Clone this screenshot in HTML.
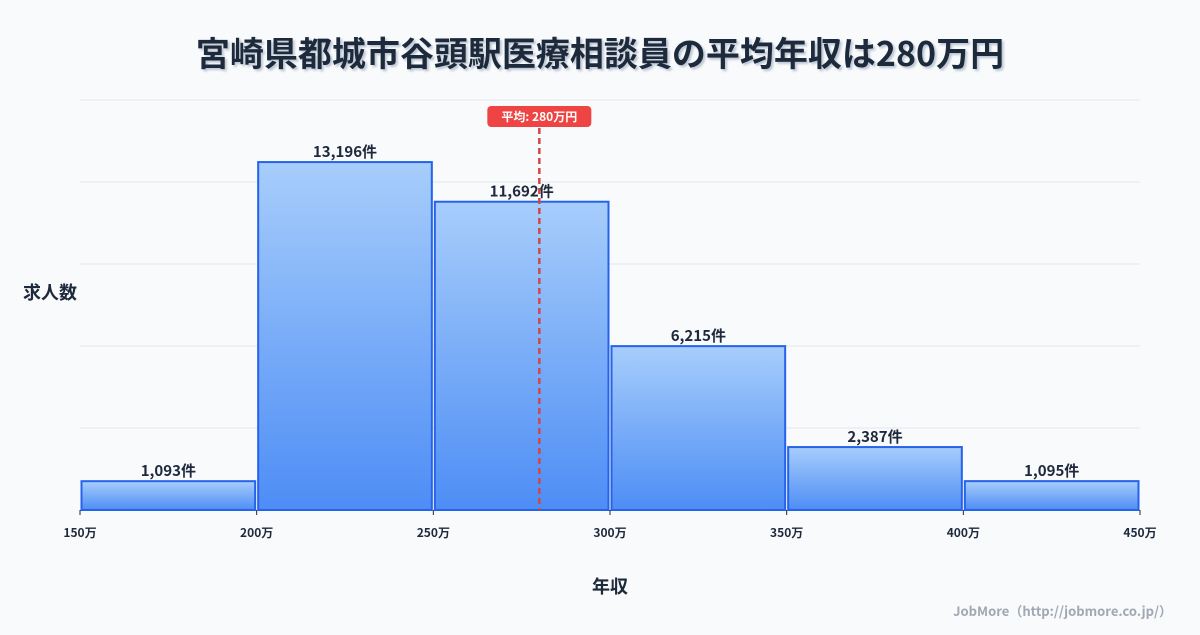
<!DOCTYPE html>
<html><head><meta charset="utf-8"><style>
body{margin:0;width:1200px;height:630px;background:#f8fafc;font-family:"Noto Sans CJK JP","Liberation Sans",sans-serif;overflow:hidden}
svg text{font-family:"Noto Sans CJK JP","Liberation Sans",sans-serif}
</style></head><body>
<svg id="chart" width="1200" height="630" xmlns="http://www.w3.org/2000/svg">
<defs>
<linearGradient id="g" x1="0" y1="0" x2="0" y2="1"><stop offset="0" stop-color="#a7cdfb"/><stop offset="1" stop-color="#4d8df5"/></linearGradient>
<filter id="sh"><feDropShadow dx="2" dy="2" stdDeviation="1" flood-color="#94a3b8" flood-opacity="0.6"/></filter>
</defs>
<text x="600" y="66" text-anchor="middle" font-size="34" font-weight="bold" fill="#1e293b" filter="url(#sh)">宮崎県都城市谷頭駅医療相談員の平均年収は280万円</text>
<g id="grid"></g><g id="bars"></g><g id="xt"></g><g id="mean"></g>
<text x="50" y="299" text-anchor="middle" font-size="18" font-weight="bold" fill="#1e293b">求人数</text>
<text x="610" y="593" text-anchor="middle" font-size="18" font-weight="bold" fill="#1e293b">年収</text>
<text x="1172" y="616" text-anchor="end" font-size="13" font-weight="bold" fill="#a0a8b4">JobMore（http://jobmore.co.jp/）</text>
</svg>
<script>
const binStarts=[150,200,250,300,350,400];
const counts=[1093,13196,11692,6215,2387,1095];
const countLabels=["1,093件","13,196件","11,692件","6,215件","2,387件","1,095件"];
const xTicks=[150,200,250,300,350,400,450];
const meanValue=280;
const binWidth=50;
const yMax=15550;
const NS="http://www.w3.org/2000/svg";
const L=80,R=1140,T=100,B=510;
const xs=v=>L+(v-150)/300*(R-L);
const ys=v=>B-v/yMax*(B-T);
function mk(t,a,p){const e=document.createElementNS(NS,t);for(const k in a)e.setAttribute(k,a[k]);p.appendChild(e);return e;}
const grid=document.getElementById('grid');
for(let i=0;i<=5;i++){const y=T+i*(B-T)/5;const l=mk('line',{x1:L,x2:R,y1:y,y2:y,stroke:'#e5e7eb','stroke-width':1},grid);

}
const bars=document.getElementById('bars');
counts.forEach((c,i)=>{const x0=xs(binStarts[i])+1.5,x1=xs(binStarts[i]+binWidth)-1.5,y=ys(c);
const r=mk('rect',{x:x0,y:y,width:x1-x0,height:B-y,fill:'url(#g)',stroke:'#2563eb','stroke-width':2},bars);


const t=mk('text',{x:(x0+x1)/2,y:y-5,'text-anchor':'middle','font-size':15,'font-weight':'bold',fill:'#1e293b'},bars);t.textContent=countLabels[i];

});
const xt=document.getElementById('xt');
xTicks.forEach(v=>{const tk=mk('line',{x1:xs(v),x2:xs(v),y1:510,y2:515,stroke:'#1e293b','stroke-width':1},xt);


const t=mk('text',{x:xs(v),y:537,'text-anchor':'middle','font-size':12,'font-weight':'bold',fill:'#1e293b'},xt);t.textContent=v+'万';

});
const mg=document.getElementById('mean');const mx=xs(meanValue);
const ml=mk('line',{x1:mx,x2:mx,y1:128,y2:B,stroke:'#d04848','stroke-width':2.5,'stroke-dasharray':'6,4'},mg);


const mr=mk('rect',{x:mx-52,y:106,width:104,height:21,rx:4,fill:'#ef4444'},mg);


const mt=mk('text',{x:mx,y:121,'text-anchor':'middle','font-size':12,'font-weight':'bold',fill:'#fff'},mg);mt.textContent='平均: '+meanValue+'万円';


</script>
</body></html>
